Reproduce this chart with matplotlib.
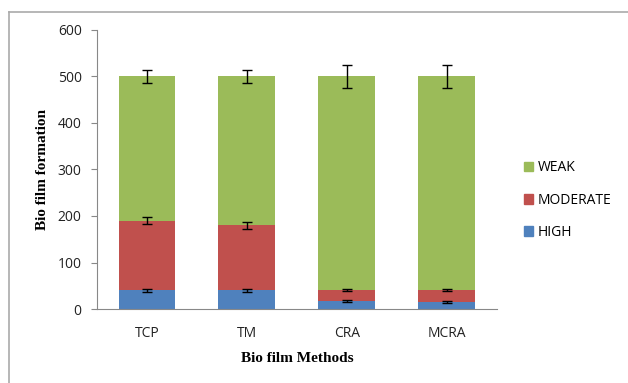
import matplotlib
matplotlib.use('Agg')
import matplotlib.pyplot as plt
from matplotlib.lines import Line2D
from matplotlib.patches import Patch
import numpy as np

# data
methods = ['TCP', 'TM', 'CRA', 'MCRA']
high = [40, 40, 18, 15]
moderate = [150, 140, 22, 25]
weak = [310, 320, 460, 460]
high_err = [3, 3, 2, 2]
moderate_err = [8, 7, 2, 2]
weak_err = [15, 15, 24, 24]

c_high = '#4f81bd'
c_mod = '#c0504d'
c_weak = '#9bbb59'

plt.rcParams['font.family'] = ['Open Sans', 'DejaVu Sans']

fig = plt.figure(figsize=(6.28, 3.83), dpi=100)
ax = fig.add_axes([0.1545, 0.1932, 0.6365, 0.7285])

x = np.arange(len(methods))
w = 0.57
high = np.array(high)
moderate = np.array(moderate)
weak = np.array(weak)

ax.bar(x, high, w, color=c_high, zorder=2)
ax.bar(x, moderate, w, bottom=high, color=c_mod, zorder=2)
ax.bar(x, weak, w, bottom=high + moderate, color=c_weak, zorder=2)

ekw = dict(fmt='none', ecolor='black', elinewidth=1.0, capsize=3.5, capthick=1.0, zorder=3)
ax.errorbar(x, high, yerr=high_err, **ekw)
ax.errorbar(x, high + moderate, yerr=moderate_err, **ekw)
ax.errorbar(x, high + moderate + weak, yerr=weak_err, **ekw)

ax.set_xlim(-0.5, 3.5)
ax.set_ylim(0, 600)
ax.set_yticks(range(0, 601, 100))
ax.set_xticks(x)
ax.set_xticklabels(methods)
ax.tick_params(axis='x', length=0, pad=12, labelsize=10, colors='#222222')
ax.tick_params(axis='y', length=4, color='#888888', labelsize=10, colors='#222222', pad=7)
for s in ['top', 'right']:
    ax.spines[s].set_visible(False)
ax.spines['left'].set_color('#888888')
ax.spines['bottom'].set_color('#888888')

ax.set_ylabel('Bio film formation', family='Liberation Serif', fontweight='bold',
              fontsize=11, labelpad=6)
ax.set_xlabel('Bio film Methods', family='Liberation Serif', fontweight='bold',
              fontsize=11, labelpad=8)

handles = [Patch(color=c_weak), Patch(color=c_mod), Patch(color=c_high)]
fig.legend(handles, ['WEAK', 'MODERATE', 'HIGH'], loc='center left',
           bbox_to_anchor=(0.825, 0.477), frameon=False, fontsize=10,
           handlelength=0.7, handleheight=0.7, handletextpad=0.3,
           labelspacing=1.25, borderaxespad=0)

# outer chart border
fig.add_artist(Line2D([9 / 628, 9 / 628], [0, 1 - 12 / 383], color='#aaaaaa', lw=1.2))
fig.add_artist(Line2D([9 / 628, 1], [1 - 12 / 383, 1 - 12 / 383], color='#aaaaaa', lw=1.2))

fig.savefig('out.png', dpi=100)
